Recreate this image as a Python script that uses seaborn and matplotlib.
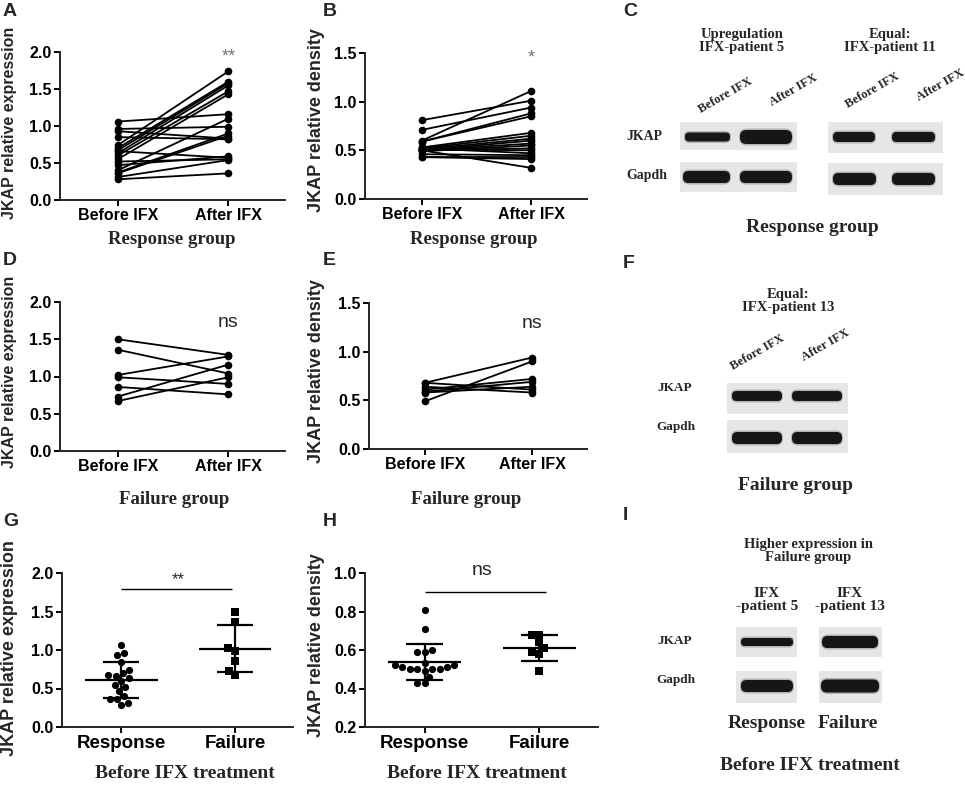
import numpy as np
import pandas as pd
import seaborn as sns
import matplotlib.pyplot as plt
from matplotlib.patches import Rectangle, FancyBboxPatch

# values
times = ['Before IFX', 'After IFX']
groups = ['Response', 'Failure']

resp_expr_before = [1.06, 0.96, 0.93, 0.85, 0.74, 0.70, 0.67, 0.66, 0.63,
                    0.60, 0.55, 0.52, 0.47, 0.40, 0.37, 0.36, 0.31, 0.28]
resp_expr_after = [1.16, 0.99, 0.83, 0.82, 1.74, 1.60, 1.58, 0.57, 1.55,
                   1.47, 1.43, 0.55, 0.59, 1.10, 0.90, 0.87, 0.54, 0.36]

resp_dens_before = [0.81, 0.71, 0.60, 0.59, 0.59, 0.53, 0.52, 0.51, 0.50,
                    0.50, 0.50, 0.49, 0.50, 0.51, 0.52, 0.46, 0.43, 0.43]
resp_dens_after = [1.01, 0.94, 1.11, 0.88, 0.85, 0.68, 0.65, 0.62, 0.60,
                   0.57, 0.32, 0.55, 0.52, 0.50, 0.47, 0.45, 0.43, 0.41]

fail_expr_before = [1.50, 1.36, 1.02, 0.99, 0.86, 0.73, 0.67]
fail_expr_after = [1.29, 1.04, 1.27, 0.90, 0.76, 1.16, 0.99]

fail_dens_before = [0.68, 0.49, 0.68, 0.64, 0.61, 0.59, 0.58]
fail_dens_after = [0.94, 0.90, 0.61, 0.58, 0.72, 0.69, 0.64]

sns.set_style('ticks')
plt.rcParams['font.family'] = ['Liberation Sans', 'DejaVu Sans']
SERIF = 'Liberation Serif'
W, H = 965, 785

fig = plt.figure(figsize=(W / 100, H / 100), dpi=100)

# full-figure pixel canvas for blots and free text
pix = fig.add_axes([0, 0, 1, 1], zorder=5)
pix.set_xlim(0, W)
pix.set_ylim(H, 0)
pix.axis('off')


def add_ax(l, t, r, b):
    return fig.add_axes([l / W, 1 - b / H, (r - l) / W, (b - t) / H])


def style(ax, ylim, yticks, xlabels, xfs=11.5):
    ax.set_ylim(*ylim)
    ax.set_yticks(yticks)
    ax.set_yticklabels([f'{t:.1f}' for t in yticks], fontsize=11.5, fontweight='bold')
    ax.set_xticks(range(len(xlabels)))
    ax.set_xticklabels(xlabels, fontsize=xfs, fontweight='bold')
    sns.despine(ax=ax)
    for s in ['left', 'bottom']:
        ax.spines[s].set_linewidth(1.4)
    ax.tick_params(width=1.4, length=4, pad=2, colors='black')


def labels(ax, ylab, ypos, ysize, xlab, xpos, xsize):
    ax.set_ylabel(ylab, fontsize=ysize, fontweight='bold')
    ax.yaxis.set_label_coords(*ypos, transform=pix.transData)
    ax.set_xlabel(xlab, fontsize=xsize, fontweight='bold', family=SERIF)
    ax.xaxis.set_label_coords(*xpos, transform=pix.transData)
    ax.xaxis.label.set_verticalalignment('center')


def paired(ax, before, after):
    n = len(before)
    df = pd.DataFrame({
        'time': [times[0]] * n + [times[1]] * n,
        'value': before + after,
        'subject': list(range(n)) * 2,
    })
    df['pos'] = df['time'].map({t: i for i, t in enumerate(times)})
    sns.lineplot(data=df, x='pos', y='value', units='subject', estimator=None,
                 color='black', marker='o', markersize=5.5, markeredgewidth=0,
                 linewidth=1.3, sort=False, legend=False, ax=ax)
    ax.set_xlim(-0.52, 1.51)


def scatter_sd(ax, resp, fail, ylim):
    for vals, grp, mk in [(resp, groups[0], 'o'), (fail, groups[1], 's')]:
        sns.swarmplot(x=[grp] * len(vals), y=vals, order=groups, color='black',
                      marker=mk, size=5.2, ax=ax)
    for i, vals in enumerate([resp, fail]):
        m = np.mean(vals)
        sd = np.std(vals, ddof=1)
        ax.hlines(m, i - 0.32, i + 0.32, color='black', lw=1.6, zorder=4)
        ax.hlines([m - sd, m + sd], i - 0.16, i + 0.16, color='black', lw=1.6, zorder=4)
        ax.vlines(i, m - sd, m + sd, color='black', lw=1.6, zorder=4)
    ax.set_xlim(-0.52, 1.51)


# ---- A ----
axA = add_ax(60, 52, 285, 200)
paired(axA, resp_expr_before, resp_expr_after)
style(axA, (0, 2.0), [0, 0.5, 1.0, 1.5, 2.0], times)
labels(axA, 'JKAP relative expression', (17, 123), 11.5, 'Response group', (172, 240), 13.5)
axA.text(1, 1.93, '**', ha='center', va='center', fontsize=13, color='#777777')

# ---- B ----
axB = add_ax(365, 53, 587, 199)
paired(axB, resp_dens_before, resp_dens_after)
style(axB, (0, 1.5), [0, 0.5, 1.0, 1.5], times)
labels(axB, 'JKAP relative density', (325, 120), 13, 'Response group', (474, 240), 13.5)
axB.text(1, 1.45, '*', ha='center', va='center', fontsize=13, color='#777777')

# ---- D ----
axD = add_ax(60, 302, 285, 451)
paired(axD, fail_expr_before, fail_expr_after)
style(axD, (0, 2.0), [0, 0.5, 1.0, 1.5, 2.0], times)
labels(axD, 'JKAP relative expression', (17, 372), 11.5, 'Failure group', (174, 500), 13.5)
axD.text(1, 1.72, 'ns', ha='center', va='center', fontsize=14)

# ---- E ----
axE = add_ax(369, 303, 587, 449)
paired(axE, fail_dens_before, fail_dens_after)
style(axE, (0, 1.5), [0, 0.5, 1.0, 1.5], times)
labels(axE, 'JKAP relative density', (325, 371), 13, 'Failure group', (466, 500), 13.5)
axE.text(1, 1.29, 'ns', ha='center', va='center', fontsize=14)

# ---- G ----
axG = add_ax(62, 573, 293, 727)
scatter_sd(axG, resp_expr_before, fail_expr_before, (0, 2.0))
style(axG, (0, 2.0), [0, 0.5, 1.0, 1.5, 2.0], groups, xfs=13.5)
labels(axG, 'JKAP relative expression', (18, 648), 13, 'Before IFX treatment', (185, 773), 14)
axG.hlines(1.79, 0, 0.97, color='black', lw=1)
axG.text(0.5, 1.92, '**', ha='center', va='center', fontsize=12)

# ---- H ----
axH = add_ax(365, 573, 598, 727)
scatter_sd(axH, resp_dens_before, fail_dens_before, (0.2, 1.0))
style(axH, (0.2, 1.0), [0.2, 0.4, 0.6, 0.8, 1.0], groups, xfs=13.5)
labels(axH, 'JKAP relative density', (325, 645), 13, 'Before IFX treatment', (477, 773), 14)
axH.hlines(0.903, 0, 1.06, color='black', lw=1)
axH.text(0.5, 1.015, 'ns', ha='center', va='center', fontsize=14, clip_on=False)


# ---- western blots ----
def blot(x0, y0, x1, y1, bands):
    pix.add_patch(Rectangle((x0, y0), x1 - x0, y1 - y0, facecolor='#e6e6e6',
                            edgecolor='none'))
    for bx0, bx1, yc, h in bands:
        hh = h + 3
        pix.add_patch(FancyBboxPatch((bx0 - 1, yc - hh / 2), bx1 - bx0 + 2, hh,
                                     boxstyle=f'round,pad=0,rounding_size={hh * 0.45}',
                                     facecolor='#555555', alpha=0.35, edgecolor='none'))
        pix.add_patch(FancyBboxPatch((bx0, yc - h / 2), bx1 - bx0, h,
                                     boxstyle=f'round,pad=0,rounding_size={h * 0.45}',
                                     facecolor='#161616', edgecolor='none'))


def stext(x, y, s, size, **kw):
    pix.text(x, y, s, fontsize=size, fontweight='bold', family=SERIF,
             ha=kw.pop('ha', 'center'), va=kw.pop('va', 'center'),
             linespacing=1.05, **kw)


# C
blot(680, 122, 797, 150, [(685, 730, 137, 9), (740, 792, 137, 14)])
blot(680, 162, 797, 192, [(683, 730, 177, 12), (740, 792, 177, 12)])
blot(828, 122, 943, 153, [(833, 875, 137, 10), (892, 935, 137, 10)])
blot(828, 163, 943, 195, [(833, 876, 179, 12), (892, 935, 179, 12)])
stext(626, 137, 'JKAP', 10, ha='left')
stext(626, 175, 'Gapdh', 10, ha='left')
stext(742, 41, 'Upregulation\nIFX-patient 5', 10.5)
stext(890, 41, 'Equal:\nIFX-patient 11', 10.5)
for x, y, t in [(725, 95, times[0]), (793, 90, times[1]),
                (872, 90, times[0]), (940, 85, times[1])]:
    stext(x, y, t, 9, rotation=30)
stext(812, 228, 'Response group', 14)

# F
blot(727, 383, 848, 414, [(732, 782, 396, 10), (792, 842, 396, 10)])
blot(727, 420, 848, 453, [(732, 782, 438, 12), (792, 842, 438, 12)])
stext(657, 388, 'JKAP', 9.5, ha='left')
stext(656, 427, 'Gapdh', 9.5, ha='left')
stext(788, 301, 'Equal:\nIFX-patient 13', 10.5)
stext(757, 352, times[0], 9, rotation=30)
stext(825, 345, times[1], 9, rotation=30)
stext(795, 485, 'Failure group', 14)

# I
blot(736, 627, 797, 657, [(741, 793, 642, 8)])
blot(819, 627, 882, 657, [(822, 878, 642, 12)])
blot(736, 671, 797, 703, [(741, 793, 686, 12)])
blot(819, 671, 882, 703, [(821, 879, 686, 13)])
stext(657, 641, 'JKAP', 9.5, ha='left')
stext(656, 680, 'Gapdh', 9.5, ha='left')
stext(808, 551, 'Higher expression in\nFailure group', 10.5)
stext(767, 600, 'IFX\n-patient 5', 11)
stext(850, 600, 'IFX\n-patient 13', 11)
stext(767, 723, groups[0], 14)
stext(848, 723, groups[1], 14)
stext(810, 765, 'Before IFX treatment', 14)

# panel letters
for x, y, s in [(3, 3, 'A'), (323, 3, 'B'), (623, 3, 'C'),
                (3, 252, 'D'), (323, 252, 'E'), (623, 255, 'F'),
                (3, 513, 'G'), (323, 513, 'H'), (623, 507, 'I')]:
    pix.text(x, y, s, fontsize=14, fontweight='bold', ha='left', va='top')

fig.savefig('out.png', dpi=100)
